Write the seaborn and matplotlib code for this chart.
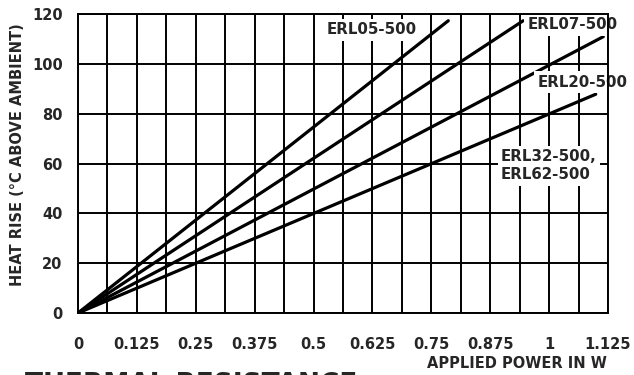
import matplotlib

matplotlib.use("Agg")
import matplotlib.pyplot as plt
import numpy as np
import pandas as pd
import seaborn as sns

# end points of each straight line (they all start at the origin)
series = ["ERL05-500", "ERL07-500", "ERL20-500", "ERL32-500,\nERL62-500"]
power_end = [0.786, 0.945, 1.115, 1.099]
rise_end = [117.3, 117.3, 110.9, 87.8]

x_ticks = [0, 0.125, 0.25, 0.375, 0.5, 0.625, 0.75, 0.875, 1, 1.125]
x_tick_labels = ["0", "0.125", "0.25", "0.375", "0.5", "0.625", "0.75", "0.875", "1", "1.125"]
x_minor = [0.0625, 0.1875, 0.3125, 0.4375, 0.5625, 0.6875, 0.8125, 0.9375, 1.0625]
y_ticks = [0, 20, 40, 60, 80, 100, 120]

# label anchors (data coords)
label_x = [0.624, 0.955, 0.976, 0.898]
label_y = [113.6, 115.6, 92.7, 59.0]
label_ha = ["center", "left", "left", "left"]

rows = []
for name, px, ry in zip(series, power_end, rise_end):
    rows.append({"series": name, "power": 0.0, "rise": 0.0})
    rows.append({"series": name, "power": px, "rise": ry})
df = pd.DataFrame(rows)

sns.set_style("white")
plt.rcParams["font.family"] = ["DejaVu Sans"]
plt.rcParams["font.weight"] = "bold"

fig = plt.figure(figsize=(6.34, 3.75), dpi=100)
ax = fig.add_axes([78 / 634, 1 - 313 / 375, 530 / 634, 299 / 375])

sns.lineplot(
    data=df, x="power", y="rise", hue="series",
    palette={s: "black" for s in series}, linewidth=2.3,
    legend=False, ax=ax, zorder=3, solid_capstyle="round",
)

ax.set_xlim(0, 1.125)
ax.set_ylim(0, 120)
ax.set_xticks(x_ticks)
ax.set_xticklabels(x_tick_labels)
ax.set_xticks(x_minor, minor=True)
ax.set_yticks(y_ticks)
ax.grid(which="both", color="black", linewidth=1.4)
ax.set_axisbelow(True)
ax.tick_params(axis="both", which="both", length=0, labelsize=10.5)
ax.tick_params(axis="x", pad=17)
ax.tick_params(axis="y", pad=11)
for sp in ax.spines.values():
    sp.set_color("black")
    sp.set_linewidth(1.4)
    sp.set_zorder(10)
ax.set_xlabel("")
ax.set_ylabel("")

for name, lx, ly, ha in zip(series, label_x, label_y, label_ha):
    ax.text(lx, ly, name, ha=ha, va="center", fontsize=10.8, fontweight="bold",
            zorder=5, linespacing=1.25,
            bbox=dict(facecolor="white", edgecolor="none", pad=2.5))

fig.text(18 / 634, 1 - 155 / 375, "HEAT RISE (°C ABOVE AMBIENT)", rotation=90,
         ha="center", va="center", fontsize=10.5, fontweight="bold")
fig.text(607 / 634, 1 - 363 / 375, "APPLIED POWER IN W", ha="right", va="center",
         fontsize=10.5, fontweight="bold")
fig.text(25 / 634, 1 - 392 / 375, "THERMAL RESISTANCE", ha="left", va="baseline",
         fontsize=19, fontweight="bold")

fig.savefig("out.png", dpi=100)
plt.close(fig)
